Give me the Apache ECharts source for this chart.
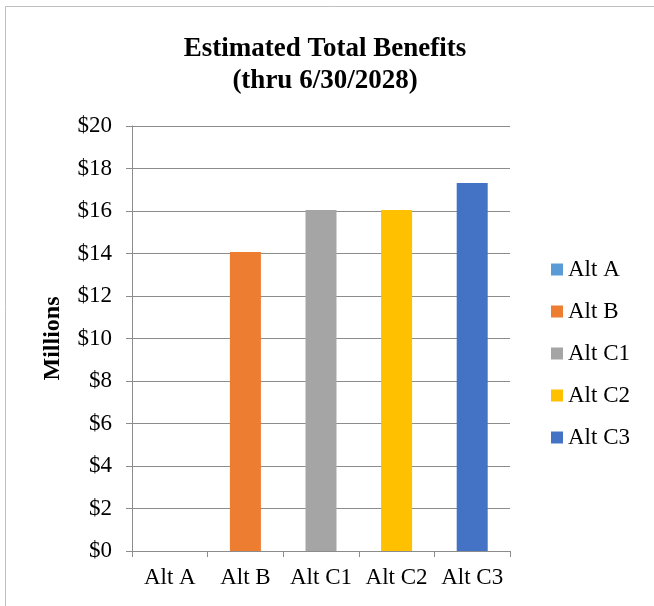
<!DOCTYPE html>
<html><head><meta charset="utf-8">
<script src="https://cdn.jsdelivr.net/npm/echarts@6/dist/echarts.min.js"></script>
<style>html,body{margin:0;padding:0;background:#fff}#c{width:654px;height:606px}</style>
</head><body><div id="c"></div>
<script>
const categories = ['Alt A','Alt B','Alt C1','Alt C2','Alt C3'];
const values = [0, 14.07, 16.05, 16.05, 17.32];
const colors = ['#5B9BD5','#ED7D31','#A5A5A5','#FFC000','#4472C4'];
const yTicks = [0,2,4,6,8,10,12,14,16,18,20];

const font = 'Liberation Serif';
const series = categories.map((name, i) => ({
  name: name,
  type: 'bar',
  stack: 'all',
  barWidth: 31,
  itemStyle: {color: colors[i]},
  data: categories.map((c, j) => j === i ? values[i] : '-')
}));

const chart = echarts.init(document.getElementById('c'));
chart.setOption({
  animation: false,
  backgroundColor: '#fff',
  graphic: [{type:'rect', shape:{x:5.5,y:6.5,width:660,height:610}, style:{fill:'none', stroke:'#bfbfbf', lineWidth:1}, silent:true}],
  title: {
    text: 'Estimated Total Benefits\n(thru 6/30/2028)',
    left: 320, top: 28, textAlign: 'center',
    textStyle: {fontFamily: font, fontWeight: 'bold', fontSize: 27, lineHeight: 32, color: '#000'}
  },
  legend: {
    orient: 'vertical', left: 546, top: 253, itemGap: 19,
    itemWidth: 12, itemHeight: 12, icon: 'rect',
    textStyle: {fontFamily: font, fontSize: 23, color: '#000'},
    data: categories
  },
  grid: {left: 132, right: 144, top: 126, bottom: 55, containLabel: false},
  xAxis: {
    type: 'category', data: categories,
    axisLine: {lineStyle: {color: '#8c8c8c'}},
    axisTick: {show: true, interval: 0, length: 6, alignWithLabel: false, lineStyle: {color: '#8c8c8c'}},
    axisLabel: {interval: 0, hideOverlap: false, fontFamily: font, fontSize: 23, color: '#000', margin: 15}
  },
  yAxis: {
    type: 'value', min: 0, max: 20, interval: 2,
    name: 'Millions', nameLocation: 'middle', nameGap: 67, nameRotate: 90,
    nameTextStyle: {fontFamily: font, fontWeight: 'bold', fontSize: 24, color: '#000'},
    axisLine: {show: true, lineStyle: {color: '#8c8c8c'}},
    axisTick: {show: true, length: 6, lineStyle: {color: '#8c8c8c'}},
    splitLine: {lineStyle: {color: '#8c8c8c'}},
    axisLabel: {fontFamily: font, fontSize: 23, color: '#000', margin: 20,
      formatter: v => yTicks.includes(v) ? '$' + v : ''}
  },
  series: series
});
</script></body></html>
